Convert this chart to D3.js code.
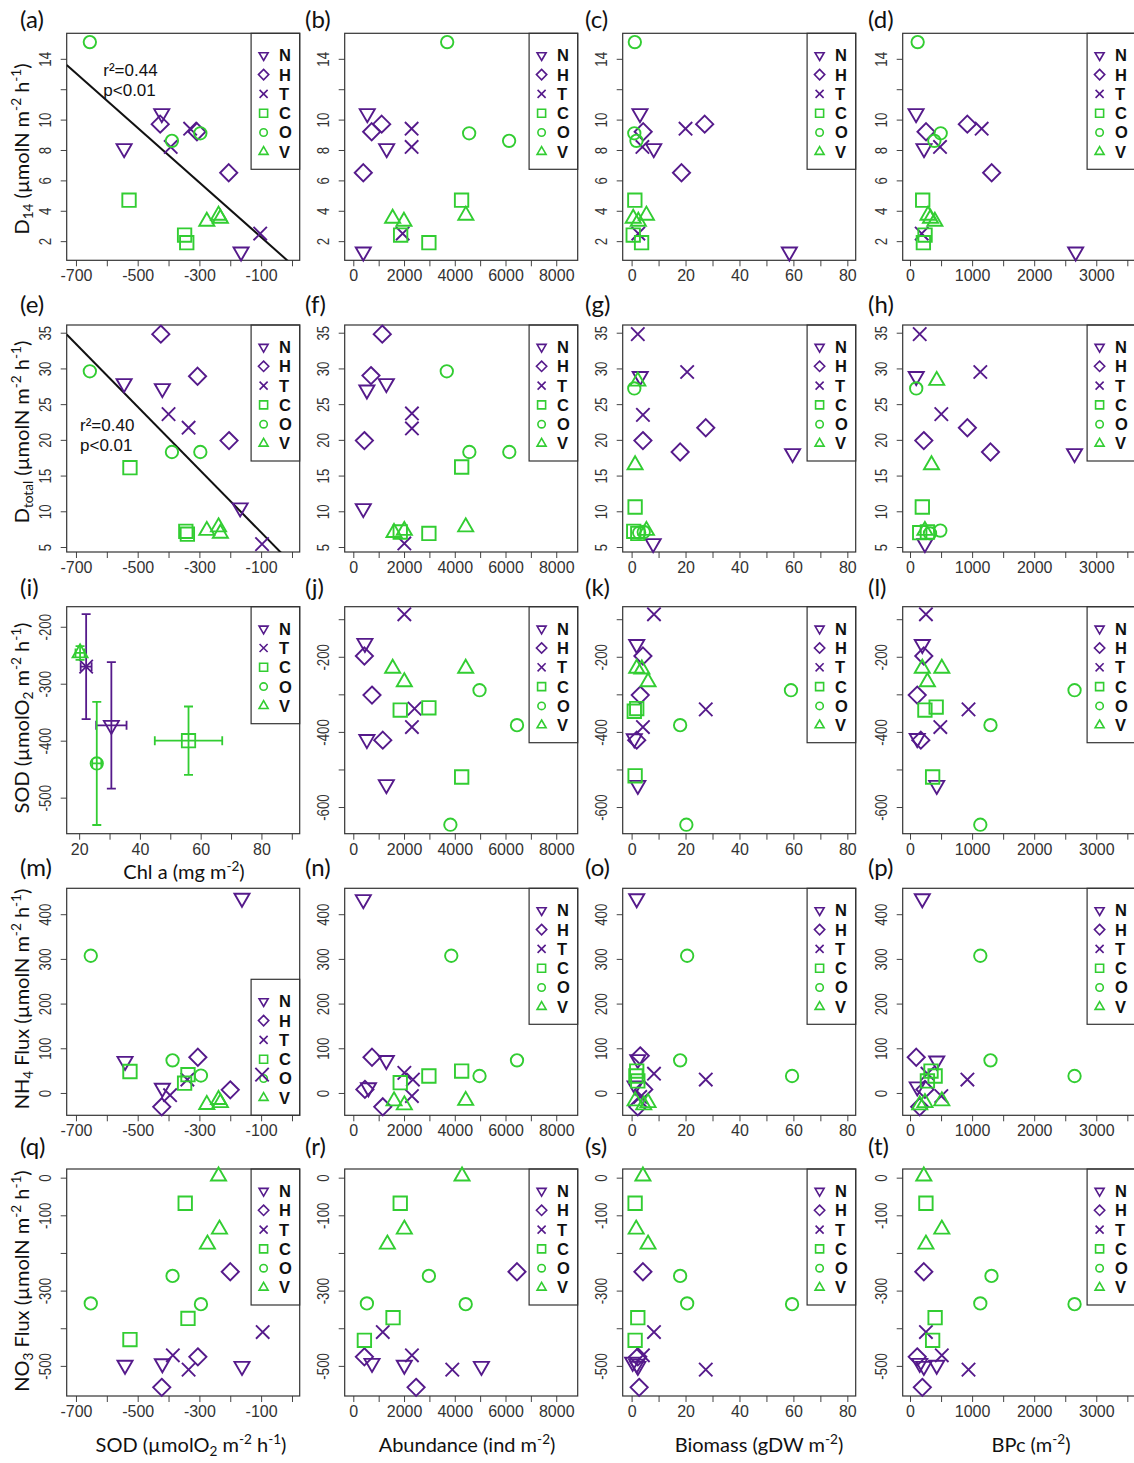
<!DOCTYPE html>
<html>
<head>
<meta charset="utf-8">
<script src="https://cdn.jsdelivr.net/npm/d3@7"></script>
<style>
body { margin: 0; background: #fff; }
svg { display: block; }
.axis text { font-family: "Liberation Sans", Arial, sans-serif; font-size: 16px; fill: #333; }
.axis line { stroke: #444; }
.title { font-family: Lato, "Open Sans", sans-serif; fill: #111; }
</style>
</head>
<body>
<svg id="fig" width="1134" height="1463"></svg>
<script>
// sites, groups and tick labels
var allSites = ["N", "H", "T", "C", "O", "V"];
var chlSites = ["N", "T", "C", "O", "V"];
var sodTickLabels = [-700, -500, -300, -100];
var chlTickLabels = [20, 40, 60, 80];
var abundTickLabels = [0, 2000, 4000, 6000, 8000];
var biomassTickLabels = [0, 20, 40, 60, 80];
var bpcTickLabels = [0, 1000, 2000, 3000];
var d14TickLabels = [2, 4, 6, 8, 10, 14];
var dtotTickLabels = [5, 10, 15, 20, 25, 30, 35];
var sodMeanTickLabels = [-200, -300, -400, -500];
var sodTickLabelsY = [-200, -400, -600];
var nh4TickLabels = [0, 100, 200, 300, 400];
var no3TickLabels = [0, -100, -300, -500];

// (a) D14 vs SOD
var pA = {N: [[-422,10.4],[-544,8.1],[-165,1.3]], H: [[-427,9.7],[-308,9.2],[-205,6.5]], T: [[-330,9.4],[-393,8.2],[-103,2.5]],
          C: [[-528,4.7],[-348,2.4],[-341,1.9]], O: [[-655,15.1],[-389,8.6],[-297,9.1]], V: [[-276,3.3],[-238,3.7],[-232,3.5]]};
// (b) D14 vs abundance
var pB = {N: [[551,10.4],[1315,8.1],[394,1.3]], H: [[1118,9.7],[724,9.2],[394,6.5]], T: [[2299,9.4],[2299,8.2],[1945,2.5]],
          C: [[4268,4.7],[1866,2.4],[2980,1.9]], O: [[3701,15.1],[4567,9.1],[6142,8.6]], V: [[1996,3.3],[4437,3.7],[1551,3.5]]};
// (c) D14 vs biomass
var pC = {N: [[3.1,10.4],[8.2,8.1],[58.5,1.3]], H: [[27.1,9.7],[4.3,9.2],[18.5,6.5]], T: [[20,9.4],[4.0,8.2],[2.5,2.5]],
          C: [[1.2,4.7],[0.6,2.4],[3.7,1.9]], O: [[1.2,15.1],[1.8,8.6],[1.0,9.1]], V: [[2.5,3.3],[5.5,3.7],[0.6,3.5]]};
// (d) D14 vs BPc
var pD = {N: [[97,10.4],[225,8.1],[2668,1.3]], H: [[923,9.7],[258,9.2],[1315,6.5]], T: [[1154,9.4],[483,8.2],[188,2.5]],
          C: [[204,4.7],[242,2.4],[215,1.9]], O: [[123,15.1],[392,8.6],[494,9.1]], V: [[400,3.3],[290,3.7],[330,3.5]]};
// (e) Dtotal vs SOD
var pE = {N: [[-420,27.2],[-544,27.9],[-168,10.5]], H: [[-425,34.8],[-306,28.9],[-204,19.9]], T: [[-400,23.6],[-335,21.7],[-97,5.4]],
          C: [[-525,16.1],[-344,7.2],[-339,6.8]], O: [[-655,29.6],[-389,18.3],[-297,18.3]], V: [[-276,7.3],[-238,7.8],[-232,6.9]]};
// (f) Dtotal vs abundance
var pF = {N: [[536,27],[1303,27.9],[394,10.4]], H: [[1142,34.8],[697,29],[437,19.9]], T: [[2311,23.7],[2311,21.6],[2012,5.5]],
          C: [[4272,16.2],[2980,6.9],[1850,7.1]], O: [[3685,29.6],[4575,18.3],[6150,18.3]], V: [[1605,7.0],[2012,7.3],[4431,7.8]]};
// (g) Dtotal vs biomass
var pG = {N: [[3.2,28.9],[59.7,18.1],[8.0,5.5]], H: [[4.2,19.9],[18.0,18.3],[27.5,21.7]], T: [[2.3,34.8],[20.6,29.5],[4.2,23.5]],
          C: [[1.3,10.6],[0.8,7.2],[2.3,6.9]], O: [[1.0,27.2],[2.8,7.0],[4.5,7.1]], V: [[2.3,28.2],[1.3,16.5],[5.5,7.3]]};
// (h) Dtotal vs BPc
var pH = {N: [[100,28.9],[2650,18.1],[240,5.5]], H: [[222,19.9],[924,21.7],[1296,18.3]], T: [[156,34.8],[1132,29.5],[504,23.6]],
          C: [[198,10.6],[156,7.0],[280,7.1]], O: [[100,27.2],[488,7.3],[322,6.9]], V: [[430,28.3],[346,16.5],[240,7.3]]};
// (i) SOD vs Chl a, site means with errors
var chlMean = [30.6, 22.3, 56.0, 25.8, 20.3];
var chlErr = [5.0, 1.8, 11.1, 1.5, 1.5];
var sodMean = [-373, -270, -400, -440, -246];
var sodErr = [111, 92, 60, 108, 12];
// (j) SOD vs abundance
var pJ = {N: [[457,-164],[536,-420],[1303,-540]], H: [[437,-198],[737,-302],[1162,-422]], T: [[2012,-87],[2413,-338],[2311,-387]],
          C: [[1850,-342],[2980,-336],[4272,-520]], O: [[4976,-289],[6453,-382],[3827,-647]], V: [[1553,-231],[2012,-267],[4431,-231]]};
// (k) SOD vs biomass
var pK = {N: [[1.9,-167],[1.0,-418],[2.3,-542]], H: [[4.2,-198],[3.2,-302],[1.9,-422]], T: [[8.3,-87],[27.5,-340],[4.2,-387]],
          C: [[1.9,-338],[1.0,-345],[1.3,-517]], O: [[59.1,-289],[18.0,-382],[20.3,-647]], V: [[1.9,-231],[3.8,-233],[6.1,-267]]};
// (l) SOD vs BPc
var pL = {N: [[198,-167],[116,-417],[430,-542]], H: [[222,-198],[116,-302],[174,-422]], T: [[256,-87],[942,-340],[488,-387]],
          C: [[240,-342],[421,-334],[364,-520]], O: [[2650,-289],[1296,-382],[1132,-647]], V: [[198,-231],[512,-231],[280,-267]]};
// (m) NH4 flux vs SOD
var pM = {N: [[-162,436],[-541,71],[-420,11]], H: [[-305,80],[-200,7],[-422,-31]], T: [[-339,30],[-395,-5],[-97,41]],
          C: [[-525,48],[-348,22],[-337,41]], O: [[-652,307],[-387,73],[-295,39]], V: [[-276,-26],[-238,-15],[-232,-22]]};
// (n) NH4 flux vs abundance
var pN = {N: [[394,433],[1303,73],[598,12]], H: [[737,80],[457,8],[1162,-31]], T: [[2012,45],[2350,30],[2311,-7]],
          C: [[1850,23],[2980,38],[4272,49]], O: [[3862,307],[4976,38],[6453,73]], V: [[1605,-18],[2012,-27],[4431,-17]]};
// (o) NH4 flux vs biomass
var pO = {N: [[1.9,435],[2.3,75],[1.3,16]], H: [[3.2,83],[4.5,8],[2.3,-31]], T: [[8.3,43],[27.5,30],[3.2,-9]],
          C: [[1.9,49],[2.3,27],[1.6,38]], O: [[20.6,307],[18.0,73],[59.5,38]], V: [[1.3,-18],[4.5,-27],[6.1,-22]]};
// (p) NH4 flux vs BPc
var pP = {N: [[198,435],[430,72],[116,14]], H: [[100,80],[240,8],[156,-31]], T: [[280,43],[924,30],[504,-7]],
          C: [[338,49],[404,38],[280,27]], O: [[1132,307],[1296,73],[2650,38]], V: [[240,-22],[156,-27],[512,-18]]};
// (q) NO3 flux vs SOD
var pQ = {N: [[-541,-498],[-420,-494],[-162,-501]], H: [[-200,-250],[-305,-476],[-422,-557]], T: [[-95,-410],[-386,-472],[-335,-510]],
          C: [[-346,-68],[-337,-374],[-525,-430]], O: [[-387,-261],[-652,-334],[-295,-336]], V: [[-238,4],[-235,-137],[-274,-177]]};
// (r) NO3 flux vs abundance
var pR = {N: [[737,-493],[2012,-498],[5050,-501]], H: [[6453,-250],[437,-476],[2475,-557]], T: [[1162,-410],[2311,-472],[3902,-510]],
          C: [[1850,-68],[1567,-372],[437,-432]], O: [[2980,-261],[536,-334],[4431,-336]], V: [[4287,4],[2012,-137],[1343,-177]]};
// (s) NO3 flux vs biomass
var pS = {N: [[0.4,-490],[1.9,-495],[2.3,-501]], H: [[4.2,-250],[2.3,-476],[2.8,-557]], T: [[8.3,-410],[4.2,-472],[27.5,-510]],
          C: [[1.3,-68],[2.3,-372],[1.3,-432]], O: [[18.0,-261],[20.6,-334],[59.5,-336]], V: [[4.2,4],[1.7,-137],[6.1,-177]]};
// (t) NO3 flux vs BPc
var pT = {N: [[156,-493],[430,-498],[222,-501]], H: [[222,-250],[116,-476],[198,-557]], T: [[256,-410],[512,-472],[942,-510]],
          C: [[256,-68],[404,-372],[364,-432]], O: [[1312,-261],[1132,-334],[2650,-336]], V: [[222,4],[512,-137],[256,-177]]};

// linear fits: [intercept, slope]
var fitD14 = [0.46, -0.018];
var fitDtot = [2.64, -0.044];

var purple = "#551a8b", green = "#32cd32";
var siteColor = {N: purple, H: purple, T: purple, C: green, O: green, V: green};
var siteShape = {N: "down", H: "diamond", T: "cross", C: "square", O: "circle", V: "up"};

var xDefs = {
  sod: {domain: [-730, 25], ticks: d3.range(-700, 1, 100), labels: sodTickLabels},
  chl: {domain: [15.9, 92.6], ticks: d3.range(20, 91, 10), labels: chlTickLabels},
  abund: {domain: [-339, 8846], ticks: d3.range(0, 8001, 1000), labels: abundTickLabels},
  biomass: {domain: [-3.3, 83.1], ticks: d3.range(0, 81, 10), labels: biomassTickLabels},
  bpc: {domain: [-118, 3635], ticks: d3.range(0, 3501, 500), labels: bpcTickLabels}
};
var yDefs = {
  d14: {domain: [0.74, 15.68], ticks: d3.range(2, 15, 2), labels: d14TickLabels},
  dtot: {domain: [4.3, 36.08], ticks: d3.range(5, 36, 5), labels: dtotTickLabels},
  sodMean: {domain: [-563.3, -164.8], ticks: d3.range(-500, -199, 100), labels: sodMeanTickLabels},
  sod: {domain: [-671, -66.7], ticks: d3.range(-600, -99, 100), labels: sodTickLabelsY},
  nh4: {domain: [-50, 458], ticks: d3.range(0, 401, 100), labels: nh4TickLabels},
  no3: {domain: [-580, 23], ticks: d3.range(-500, 1, 100), labels: no3TickLabels}
};

var colX = ["sod", "abund", "biomass", "bpc"];
var rowY = ["d14", "dtot", "sod", "nh4", "no3"];
var panels = [
  {id: "a", data: pA, fit: fitD14, stats: ["r²=0.44", "p<0.01"], statPos: [36.6, 42.5]},
  {id: "b", data: pB}, {id: "c", data: pC}, {id: "d", data: pD},
  {id: "e", data: pE, fit: fitDtot, stats: ["r²=0.40", "p<0.01"], statPos: [13.3, 106]},
  {id: "f", data: pF}, {id: "g", data: pG}, {id: "h", data: pH},
  {id: "i", means: true}, {id: "j", data: pJ}, {id: "k", data: pK}, {id: "l", data: pL},
  {id: "m", data: pM, legendBottom: true}, {id: "n", data: pN}, {id: "o", data: pO}, {id: "p", data: pP},
  {id: "q", data: pQ}, {id: "r", data: pR}, {id: "s", data: pS}, {id: "t", data: pT}
];

var colLeft = [66.7, 344.7, 622.7, 902.7];
var rowTop = [33.3, 325, 606.7, 888.3, 1169];
var plotW = 233, plotH = 227;
var labelX = [20, 305, 585, 868];
var labelY = [28, 313, 596, 876, 1155];

var svg = d3.select("#fig");

function shapePath(shape, s) {
  var p = d3.path();
  if (shape == "down" || shape == "up") {
    var r = 8.7 * s, k = shape == "up" ? -1 : 1;
    p.moveTo(0, k * r);
    p.lineTo(0.866 * r, -k * 0.5 * r);
    p.lineTo(-0.866 * r, -k * 0.5 * r);
    p.closePath();
  } else if (shape == "diamond") {
    var h = 8.6 * s;
    p.moveTo(0, -h); p.lineTo(h, 0); p.lineTo(0, h); p.lineTo(-h, 0); p.closePath();
  } else if (shape == "square") {
    var q = 6.7 * s;
    p.rect(-q, -q, 2 * q, 2 * q);
  } else if (shape == "circle") {
    var c = 6.2 * s;
    p.arc(0, 0, c, 0, 2 * Math.PI);
  } else {
    var a = 6.7 * s;
    p.moveTo(-a, -a); p.lineTo(a, a); p.moveTo(-a, a); p.lineTo(a, -a);
  }
  return p.toString();
}

// text with sub/superscript pieces
function richText(sel, parts, size) {
  var shift = 0;
  parts.forEach(function(part) {
    var t = sel.append("tspan").text(part[0]);
    var target = part[1] == "sup" ? -0.38 * size : part[1] == "sub" ? 0.22 * size : 0;
    if (part[1]) t.attr("font-size", size * 0.68);
    if (target != shift) t.attr("dy", target - shift);
    shift = target;
  });
}

function drawLegend(g, sites, atBottom) {
  var lw = 48.6, lh = sites.length == 6 ? 136 : 117;
  var lg = g.append("g")
    .attr("transform", "translate(" + (plotW - lw) + "," + (atBottom ? plotH - lh : 0) + ")");
  lg.append("rect").attr("width", lw).attr("height", lh)
    .attr("fill", "none").attr("stroke", "#333").attr("stroke-width", 1.2);
  sites.forEach(function(s, i) {
    var cy = 22 + i * 19.3;
    lg.append("path").attr("d", shapePath(siteShape[s], 0.6))
      .attr("transform", "translate(12.5," + cy + ")")
      .attr("fill", "none").attr("stroke", siteColor[s]).attr("stroke-width", 1.6);
    lg.append("text").attr("x", 28).attr("y", cy).attr("dy", "0.36em").text(s)
      .style("font-family", "'Liberation Sans', Arial, sans-serif")
      .style("font-size", "16.5px").style("font-weight", "bold").style("fill", "#111");
  });
}

panels.forEach(function(p, idx) {
  var row = Math.floor(idx / 4), col = idx % 4;
  var xd = xDefs[p.means ? "chl" : colX[col]];
  var yd = yDefs[p.means ? "sodMean" : rowY[row]];
  var x = d3.scaleLinear().domain(xd.domain).range([0, plotW]);
  var y = d3.scaleLinear().domain(yd.domain).range([plotH, 0]);
  var g = svg.append("g").attr("transform", "translate(" + colLeft[col] + "," + rowTop[row] + ")");

  g.append("clipPath").attr("id", "clip-" + p.id)
    .append("rect").attr("width", plotW).attr("height", plotH);

  var xAxis = d3.axisBottom(x).tickValues(xd.ticks).tickSize(6).tickPadding(3.5)
    .tickFormat(function(d) { return xd.labels.indexOf(d) >= 0 ? String(d) : ""; });
  g.append("g").attr("class", "axis").attr("transform", "translate(0," + plotH + ")").call(xAxis);

  var yAxis = d3.axisLeft(y).tickValues(yd.ticks).tickSize(6)
    .tickFormat(function(d) { return yd.labels.indexOf(d) >= 0 ? String(d) : ""; });
  var ya = g.append("g").attr("class", "axis").call(yAxis);
  ya.selectAll("text").attr("x", null).attr("dy", null).attr("text-anchor", "middle")
    .attr("transform", "translate(-16,0) scale(1,0.83) rotate(-90)");
  g.selectAll(".axis .domain").remove();

  g.append("rect").attr("width", plotW).attr("height", plotH)
    .attr("fill", "none").attr("stroke", "#333").attr("stroke-width", 1.2);

  drawLegend(g, p.means ? chlSites : allSites, p.legendBottom);

  var plot = g.append("g").attr("clip-path", "url(#clip-" + p.id + ")");

  if (p.fit) {
    var x0 = xd.domain[0], x1 = xd.domain[1];
    plot.append("line")
      .attr("x1", x(x0)).attr("y1", y(p.fit[0] + p.fit[1] * x0))
      .attr("x2", x(x1)).attr("y2", y(p.fit[0] + p.fit[1] * x1))
      .attr("stroke", "#111").attr("stroke-width", 2);
  }

  if (p.means) {
    chlSites.forEach(function(s, i) {
      var cx = x(chlMean[i]), cy = y(sodMean[i]);
      var col = siteColor[s], cap = 4.5;
      var eb = plot.append("g").attr("stroke", col).attr("stroke-width", 1.8).attr("fill", "none");
      var yt = y(sodMean[i] + sodErr[i]), yb = y(sodMean[i] - sodErr[i]);
      var xl = x(chlMean[i] - chlErr[i]), xr = x(chlMean[i] + chlErr[i]);
      eb.append("line").attr("x1", cx).attr("x2", cx).attr("y1", yt).attr("y2", yb);
      eb.append("line").attr("x1", cx - cap).attr("x2", cx + cap).attr("y1", yt).attr("y2", yt);
      eb.append("line").attr("x1", cx - cap).attr("x2", cx + cap).attr("y1", yb).attr("y2", yb);
      eb.append("line").attr("x1", xl).attr("x2", xr).attr("y1", cy).attr("y2", cy);
      eb.append("line").attr("x1", xl).attr("x2", xl).attr("y1", cy - cap).attr("y2", cy + cap);
      eb.append("line").attr("x1", xr).attr("x2", xr).attr("y1", cy - cap).attr("y2", cy + cap);
      eb.append("path").attr("d", shapePath(siteShape[s], 1))
        .attr("transform", "translate(" + cx + "," + cy + ")");
    });
  } else {
    allSites.forEach(function(s) {
      g.selectAll(null).data(p.data[s]).enter().append("path")
        .attr("d", shapePath(siteShape[s], 1))
        .attr("transform", function(d) { return "translate(" + x(d[0]) + "," + y(d[1]) + ")"; })
        .attr("fill", "none").attr("stroke", siteColor[s]).attr("stroke-width", 1.9);
    });
  }

  if (p.stats) {
    p.stats.forEach(function(t, i) {
      g.append("text").attr("x", p.statPos[0]).attr("y", p.statPos[1] + i * 20).text(t)
        .style("font-family", "'Liberation Sans', Arial, sans-serif").style("font-size", "17px").style("fill", "#111");
    });
  }

  svg.append("text").attr("class", "title").attr("x", labelX[col]).attr("y", labelY[row])
    .style("font-size", "24px").text("(" + p.id + ")");
});

// y axis titles
var yTitles = [
  [["D", ""], ["14", "sub"], [" (µmolN m", ""], ["-2", "sup"], [" h", ""], ["-1", "sup"], [")", ""]],
  [["D", ""], ["total", "sub"], [" (µmolN m", ""], ["-2", "sup"], [" h", ""], ["-1", "sup"], [")", ""]],
  [["SOD (µmolO", ""], ["2", "sub"], [" m", ""], ["-2", "sup"], [" h", ""], ["-1", "sup"], [")", ""]],
  [["NH", ""], ["4", "sub"], [" Flux (µmolN m", ""], ["-2", "sup"], [" h", ""], ["-1", "sup"], [")", ""]],
  [["NO", ""], ["3", "sub"], [" Flux (µmolN m", ""], ["-2", "sup"], [" h", ""], ["-1", "sup"], [")", ""]]
];
var yTitleCenter = [149, 432, 718, 999, 1281];
yTitles.forEach(function(parts, i) {
  var t = svg.append("text").attr("class", "title").attr("text-anchor", "middle")
    .attr("transform", "translate(29," + yTitleCenter[i] + ") rotate(-90)")
    .style("font-size", "20px");
  richText(t, parts, 20);
});

// x axis titles
var xTitles = [
  [["SOD (µmolO", ""], ["2", "sub"], [" m", ""], ["-2", "sup"], [" h", ""], ["-1", "sup"], [")", ""]],
  [["Abundance (ind m", ""], ["-2", "sup"], [")", ""]],
  [["Biomass (gDW m", ""], ["-2", "sup"], [")", ""]],
  [["BPc (m", ""], ["-2", "sup"], [")", ""]]
];
var xTitleCenter = [191, 467, 759, 1031];
xTitles.forEach(function(parts, i) {
  var t = svg.append("text").attr("class", "title").attr("text-anchor", "middle")
    .attr("x", xTitleCenter[i]).attr("y", 1452).style("font-size", "20px");
  richText(t, parts, 20);
});
var chlTitle = svg.append("text").attr("class", "title").attr("text-anchor", "middle")
  .attr("x", 184).attr("y", 879).style("font-size", "20px");
richText(chlTitle, [["Chl a (mg m", ""], ["-2", "sup"], [")", ""]], 20);
</script>
</body>
</html>
